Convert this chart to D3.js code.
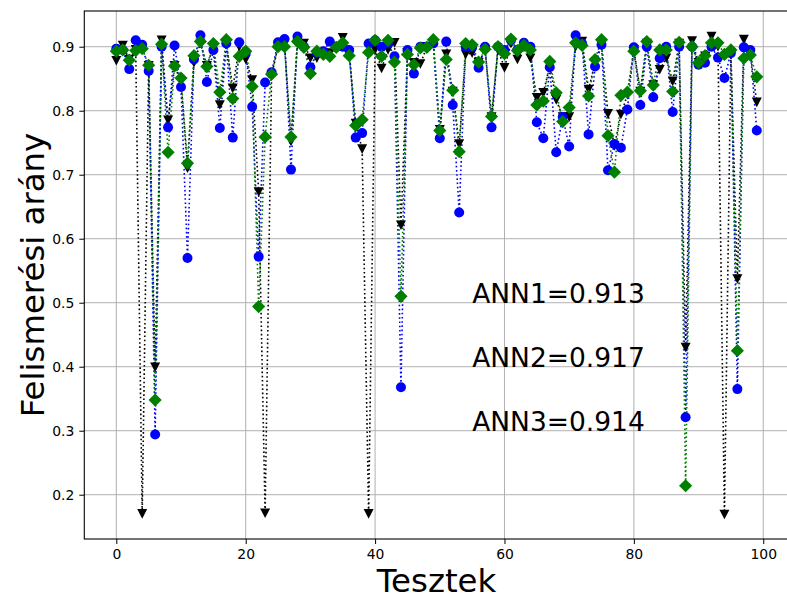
<!DOCTYPE html>
<html>
<head>
<meta charset="utf-8">
<script src="https://cdn.jsdelivr.net/npm/d3@7"></script>
<style>
  body { margin: 0; background: #fff; }
  text { font-family: "DejaVu Sans", sans-serif; }
</style>
</head>
<body>
<svg id="chart" width="787" height="600"></svg>
<script>
// values
const ann1 = [0.897, 0.895, 0.865, 0.91, 0.903, 0.862, 0.294, 0.9, 0.774, 0.902,
  0.837, 0.570, 0.88, 0.918, 0.845, 0.895, 0.773, 0.905, 0.758, 0.907,
  0.89, 0.806, 0.572, 0.844, 0.86, 0.907, 0.912, 0.708, 0.916, 0.9,
  0.868, 0.89, 0.893, 0.908, 0.9, 0.9, 0.895, 0.758, 0.765, 0.905,
  0.91, 0.9, 0.905, 0.885, 0.368, 0.895, 0.858, 0.9, 0.9, 0.905,
  0.757, 0.908, 0.809, 0.641, 0.9, 0.9, 0.867, 0.9, 0.774, 0.9,
  0.895, 0.91, 0.895, 0.906, 0.9, 0.782, 0.757, 0.868, 0.735, 0.79,
  0.744, 0.918, 0.905, 0.763, 0.869, 0.903, 0.707, 0.748, 0.742, 0.802,
  0.899, 0.809, 0.9, 0.821, 0.882, 0.9, 0.798, 0.9, 0.321, 0.9,
  0.872, 0.875, 0.9, 0.883, 0.851, 0.89, 0.365, 0.899, 0.895, 0.769];

const ann2 = [0.893, 0.895, 0.879, 0.894, 0.897, 0.871, 0.348, 0.904, 0.735, 0.87,
  0.851, 0.718, 0.886, 0.908, 0.869, 0.905, 0.829, 0.911, 0.819, 0.885,
  0.893, 0.838, 0.494, 0.759, 0.857, 0.9, 0.9, 0.759, 0.908, 0.899,
  0.858, 0.893, 0.888, 0.885, 0.899, 0.906, 0.886, 0.777, 0.786, 0.891,
  0.91, 0.885, 0.91, 0.876, 0.51, 0.888, 0.872, 0.898, 0.899, 0.911,
  0.769, 0.88, 0.832, 0.736, 0.905, 0.903, 0.876, 0.896, 0.791, 0.9,
  0.889, 0.912, 0.894, 0.902, 0.895, 0.809, 0.815, 0.877, 0.828, 0.783,
  0.805, 0.906, 0.902, 0.823, 0.88, 0.911, 0.761, 0.704, 0.824, 0.829,
  0.893, 0.831, 0.908, 0.84, 0.895, 0.895, 0.83, 0.907, 0.214, 0.9,
  0.875, 0.886, 0.906, 0.906, 0.888, 0.895, 0.425, 0.882, 0.887, 0.853];

const ann3 = [0.878, 0.902, 0.88, 0.895, 0.17, 0.87, 0.399, 0.91, 0.785, 0.87,
  0.845, 0.71, 0.875, 0.905, 0.87, 0.9, 0.809, 0.905, 0.835, 0.9,
  0.88, 0.848, 0.673, 0.171, 0.855, 0.9, 0.905, 0.752, 0.905, 0.905,
  0.882, 0.882, 0.89, 0.89, 0.9, 0.914, 0.89, 0.78, 0.74, 0.17,
  0.895, 0.866, 0.895, 0.906, 0.621, 0.89, 0.875, 0.873, 0.9, 0.905,
  0.77, 0.888, 0.83, 0.748, 0.888, 0.89, 0.875, 0.895, 0.79, 0.895,
  0.867, 0.905, 0.88, 0.9, 0.882, 0.82, 0.828, 0.87, 0.817, 0.79,
  0.79, 0.9, 0.908, 0.833, 0.875, 0.905, 0.795, 0.745, 0.794, 0.825,
  0.895, 0.83, 0.905, 0.84, 0.864, 0.882, 0.846, 0.905, 0.43, 0.909,
  0.875, 0.885, 0.916, 0.9, 0.169, 0.89, 0.537, 0.911, 0.89, 0.813];

const xTicks = [0, 20, 40, 60, 80, 100];
const yTicks = [0.2, 0.3, 0.4, 0.5, 0.6, 0.7, 0.8, 0.9];
const notes = ["ANN1=0.913", "ANN2=0.917", "ANN3=0.914"];
const noteY = [0.5, 0.4, 0.3];

const svg = d3.select("#chart");
const plotL = 84.3, plotR = 788.8, plotT = 11, plotB = 539;

const x = d3.scaleLinear().domain([-4.95, 103.95]).range([plotL, plotR]);
const y = d3.scaleLinear().domain([0.1308, 0.9558]).range([plotB, plotT]);

// grid
const grid = svg.append("g");
grid.selectAll(".gx").data(xTicks).enter().append("line")
    .attr("x1", d => x(d)).attr("x2", d => x(d))
    .attr("y1", plotT).attr("y2", plotB)
    .attr("stroke", "#b0b0b0").attr("stroke-width", 1);
grid.selectAll(".gy").data(yTicks).enter().append("line")
    .attr("x1", plotL).attr("x2", plotR)
    .attr("y1", d => y(d)).attr("y2", d => y(d))
    .attr("stroke", "#b0b0b0").attr("stroke-width", 1);

// series
const idx = d3.range(ann1.length);
const series = [
    {vals: ann3, color: "#000000", shape: "tri"},
    {vals: ann1, color: "#0000ff", shape: "circle"},
    {vals: ann2, color: "#008000", shape: "diamond"}
];

const shapes = {
    circle: d3.symbol().type(d3.symbolCircle).size(Math.PI * 25)(),
    diamond: "M0,-6.6L6.6,0L0,6.6L-6.6,0Z",
    tri: "M-5,-4.8L5,-4.8L0,4.8Z"
};

const plot = svg.append("g");
series.forEach(s => {
    const line = d3.line().x(i => x(i)).y(i => y(s.vals[i]));
    plot.append("path")
        .datum(idx)
        .attr("d", line)
        .attr("fill", "none")
        .attr("stroke", s.color)
        .attr("stroke-width", 1.6)
        .attr("stroke-dasharray", "1.6,2.6");
});
series.forEach(s => {
    plot.append("g").selectAll("path").data(idx).enter().append("path")
        .attr("d", shapes[s.shape])
        .attr("transform", i => `translate(${x(i)},${y(s.vals[i])})`)
        .attr("fill", s.color);
});

// annotations
svg.selectAll(".note").data(notes).enter().append("text")
    .attr("x", x(55))
    .attr("y", (d, i) => y(noteY[i]))
    .attr("font-size", "26.5px")
    .attr("fill", "#000")
    .text(d => d);

// axes
const xAxis = svg.append("g")
    .attr("transform", `translate(0,${plotB})`)
    .call(d3.axisBottom(x).tickValues(xTicks).tickSize(5).tickPadding(5).tickFormat(d3.format("d")));
const yAxis = svg.append("g")
    .attr("transform", `translate(${plotL},0)`)
    .call(d3.axisLeft(y).tickValues(yTicks).tickSize(5).tickPadding(5).tickFormat(d3.format(".1f")));
[xAxis, yAxis].forEach(a => {
    a.select(".domain").remove();
    a.selectAll("text").attr("font-family", "DejaVu Sans").attr("font-size", "13.9px").attr("fill", "#000");
    a.selectAll("line").attr("stroke", "#000").attr("stroke-width", 1);
});

// frame
svg.append("rect")
    .attr("x", plotL).attr("y", plotT)
    .attr("width", plotR - plotL).attr("height", plotB - plotT)
    .attr("fill", "none").attr("stroke", "#000").attr("stroke-width", 1.1);

// axis labels
svg.append("text")
    .attr("x", (plotL + plotR) / 2).attr("y", 592)
    .attr("text-anchor", "middle")
    .attr("font-size", "32.4px")
    .text("Tesztek");
svg.append("text")
    .attr("transform", `translate(44,${(plotT + plotB) / 2}) rotate(-90)`)
    .attr("text-anchor", "middle")
    .attr("font-size", "32.4px")
    .text("Felismerési arány");
</script>
</body>
</html>
